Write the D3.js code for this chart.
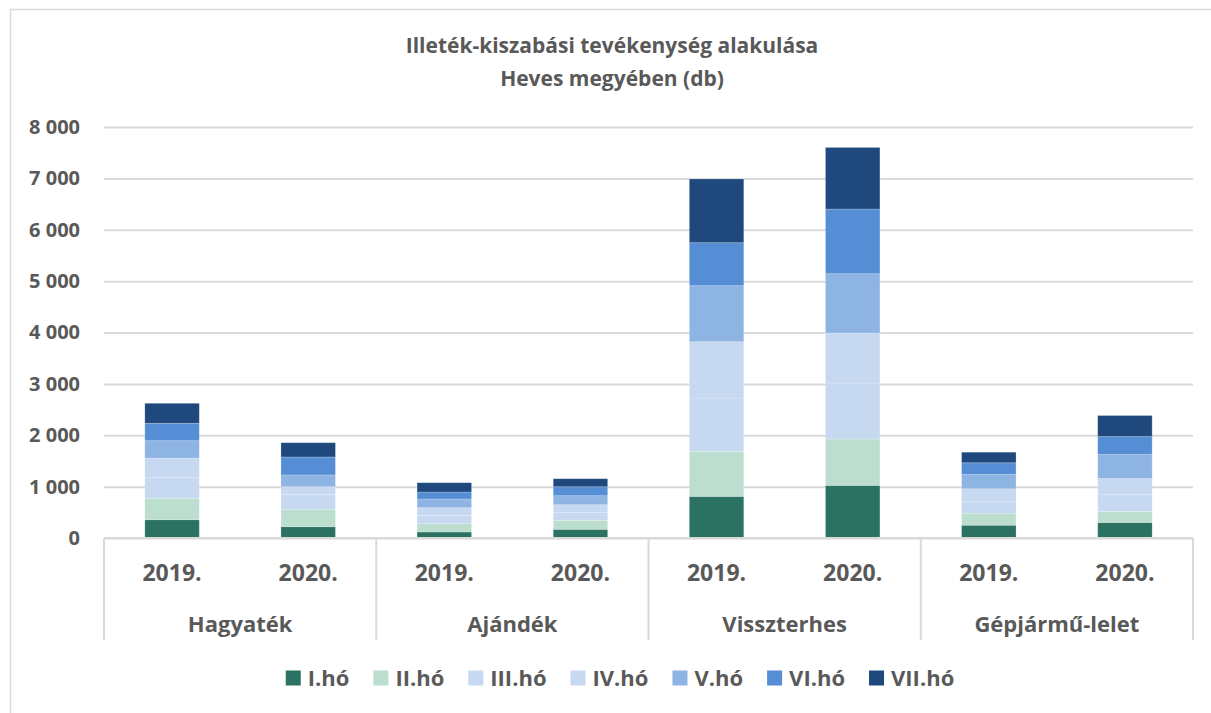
<!DOCTYPE html>
<html>
<head>
<meta charset="utf-8">
<script src="https://cdn.jsdelivr.net/npm/d3@7"></script>
<style>
  body { margin: 0; background: #fff; }
  svg { display: block; font-family: "Open Sans", "DejaVu Sans", sans-serif; }
</style>
</head>
<body>
<div id="container"></div>
<script>
var categories = ['Hagyaték', 'Ajándék', 'Visszterhes', 'Gépjármű-lelet'];
var years = ['2019.', '2020.'];
var months = ['I.hó', 'II.hó', 'III.hó', 'IV.hó', 'V.hó', 'VI.hó', 'VII.hó'];
var colors = ['#2b7263', '#bcdecf', '#c6d9f1', '#c6d9f1', '#8eb4e3', '#558ed5', '#1f497d'];
var yTicks = [0, 1000, 2000, 3000, 4000, 5000, 6000, 7000, 8000];

// values per month, bar order: Hagyaték 2019, 2020, Ajándék 2019, 2020, Visszterhes 2019, 2020, Gépjármű-lelet 2019, 2020
var m1 = [356, 220, 117, 169, 810, 1024, 249, 302];
var m2 = [417, 339, 162, 175, 876, 903, 234, 214];
var m3 = [400, 292, 160, 156, 1039, 1090, 222, 325];
var m4 = [384, 148, 151, 148, 1096, 973, 253, 317];
var m5 = [337, 228, 169, 175, 1090, 1154, 278, 467];
var m6 = [339, 350, 136, 175, 837, 1259, 228, 350];
var m7 = [389, 278, 181, 156, 1240, 1199, 206, 409];

var W = 1211, H = 713;
var plotLeft = 104, plotRight = 1193, plotTop = 127, plotBase = 538;
var textColor = '#595959', gridColor = '#d9d9d9';

var series = [m1, m2, m3, m4, m5, m6, m7];
var rows = [];
categories.forEach(function (c, ci) {
  years.forEach(function (yr, yi) {
    var row = { cat: c, year: yr };
    months.forEach(function (m, mi) { row[m] = series[mi][ci * 2 + yi]; });
    rows.push(row);
  });
});

var svg = d3.select('#container').append('svg')
  .attr('width', W).attr('height', H);

svg.append('rect')
  .attr('x', 10.5).attr('y', 9.5).attr('width', W + 10).attr('height', H + 10)
  .attr('fill', '#fff').attr('stroke', gridColor).attr('stroke-width', 1.5);

var y = d3.scaleLinear().domain([0, 8000]).range([plotBase, plotTop]);
var x0 = d3.scaleBand().domain(categories).range([plotLeft, plotRight]);
var x1 = d3.scaleBand().domain(years).range([0, x0.bandwidth()])
  .paddingInner(0.6).paddingOuter(0.3);

var fmt = d3.formatLocale({ decimal: ',', thousands: '\u00a0', grouping: [3], currency: ['', ''] }).format(',d');

// title
var title = svg.append('text')
  .attr('text-anchor', 'middle')
  .attr('fill', textColor)
  .style('font-size', '21px').style('font-weight', 700);
title.append('tspan').attr('x', 612).attr('y', 53).text('Illeték-kiszabási tevékenység alakulása');
title.append('tspan').attr('x', 612).attr('y', 86).text('Heves megyében (db)');

// y grid + labels
var yAxis = svg.append('g')
  .attr('transform', 'translate(' + plotLeft + ',0)')
  .call(d3.axisLeft(y).tickValues(yTicks).tickSize(-(plotRight - plotLeft)).tickPadding(24).tickFormat(fmt));
yAxis.select('.domain').remove();
yAxis.selectAll('.tick line').attr('stroke', gridColor).attr('stroke-width', 2);
yAxis.selectAll('.tick text')
  .attr('fill', textColor)
  .style('font-size', '20px').style('font-weight', 700)
  .style('font-family', '"Open Sans", sans-serif');

// stacked bars
var stack = d3.stack().keys(months);
var layers = stack(rows);

svg.append('g').selectAll('g')
  .data(layers)
  .enter().append('g')
  .attr('fill', function (d, i) { return colors[i]; })
  .selectAll('rect')
  .data(function (d) { return d; })
  .enter().append('rect')
  .attr('x', function (d) { return x0(d.data.cat) + x1(d.data.year); })
  .attr('width', x1.bandwidth())
  .attr('y', function (d) { return y(d[1]); })
  .attr('height', function (d) { return y(d[0]) - y(d[1]); })
  .attr('stroke', '#fff').attr('stroke-opacity', 0.25).attr('stroke-width', 0.8);

// x axis: base line, group separators, labels
var xg = svg.append('g');
xg.append('line')
  .attr('x1', plotLeft).attr('x2', plotRight).attr('y1', plotBase).attr('y2', plotBase)
  .attr('stroke', gridColor).attr('stroke-width', 2);

var bounds = categories.map(function (c) { return x0(c); }).concat([plotRight]);
xg.selectAll('.sep')
  .data(bounds)
  .enter().append('line')
  .attr('class', 'sep')
  .attr('x1', function (d) { return d; }).attr('x2', function (d) { return d; })
  .attr('y1', plotBase).attr('y2', 640)
  .attr('stroke', gridColor).attr('stroke-width', 2);

xg.selectAll('.yr')
  .data(rows)
  .enter().append('text')
  .attr('class', 'yr')
  .attr('x', function (d) { return x0(d.cat) + x1(d.year) + x1.bandwidth() / 2; })
  .attr('y', 581)
  .attr('text-anchor', 'middle')
  .attr('fill', textColor)
  .style('font-size', '23px').style('font-weight', 700)
  .text(function (d) { return d.year; });

xg.selectAll('.cat')
  .data(categories)
  .enter().append('text')
  .attr('class', 'cat')
  .attr('x', function (d) { return x0(d) + x0.bandwidth() / 2; })
  .attr('y', 632)
  .attr('text-anchor', 'middle')
  .attr('fill', textColor)
  .style('font-size', '22px').style('font-weight', 700)
  .text(function (d) { return d; });

// legend
var legend = svg.append('g');
var items = legend.selectAll('g')
  .data(months)
  .enter().append('g');
items.append('rect')
  .attr('width', 15).attr('height', 15).attr('y', -7.5)
  .attr('fill', function (d, i) { return colors[i]; });
items.append('text')
  .attr('x', 22).attr('dy', '0.36em')
  .attr('fill', textColor)
  .style('font-size', '22px').style('font-weight', 700)
  .text(function (d) { return d; });

var pos = 0;
items.each(function () {
  var g = d3.select(this);
  g.attr('transform', 'translate(' + pos + ',0)');
  pos += 22 + g.select('text').node().getComputedTextLength() + 24;
});
pos -= 24;
legend.attr('transform', 'translate(' + (620 - pos / 2) + ',678)');
</script>
</body>
</html>
